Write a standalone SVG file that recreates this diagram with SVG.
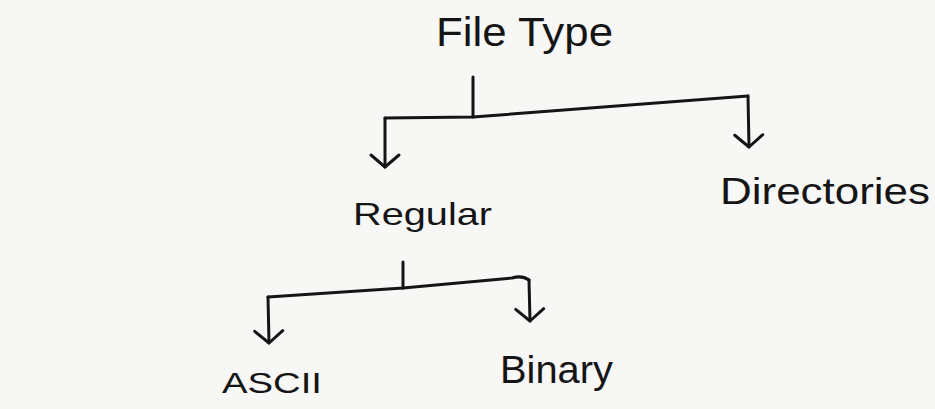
<svg xmlns="http://www.w3.org/2000/svg" width="935" height="409" viewBox="0 0 935 409">
  <style>
    .bg { fill: #f7f7f5; }
    .lbl { font-family: "Liberation Sans", "DejaVu Sans", sans-serif; fill: #151515; }
    .wire { fill: none; stroke: #151515; stroke-width: 3; stroke-linecap: round; stroke-linejoin: round; }
  </style>
  <defs>
    <marker id="vhead" markerUnits="userSpaceOnUse" viewBox="-20 -20 40 40" markerWidth="40" markerHeight="40" refX="0" refY="0" orient="auto">
      <path d="M-12,-14 L0,0 L-12,14" fill="none" stroke="#151515" stroke-width="3" stroke-linecap="round" stroke-linejoin="round"/>
    </marker>
  </defs>
  <rect class="bg" x="0" y="0" width="935" height="409"/>

  <g id="connectors">
    <path class="wire" d="M473,77 L473,117"/>
    <path class="wire" d="M385,118 L473,117 L748,96"/>
    <path class="wire" d="M385,118 L385,167" marker-end="url(#vhead)"/>
    <path class="wire" d="M748,96 L749,147" marker-end="url(#vhead)"/>
    <path class="wire" d="M403,262 L403,288"/>
    <path class="wire" d="M268,297 L403,288 L512,278 Q522,275 529,280"/>
    <path class="wire" d="M268,297 L269,343" marker-end="url(#vhead)"/>
    <path class="wire" d="M529,280 L530,321" marker-end="url(#vhead)"/>
  </g>

  <g id="node-filetype">
    <text class="lbl" x="436" y="46" font-size="40" textLength="177" lengthAdjust="spacingAndGlyphs">File Type</text>
  </g>
  <g id="node-regular">
    <text class="lbl" x="353" y="225" font-size="32" textLength="139" lengthAdjust="spacingAndGlyphs">Regular</text>
  </g>
  <g id="node-directories">
    <text class="lbl" x="720" y="204" font-size="36" textLength="210" lengthAdjust="spacingAndGlyphs">Directories</text>
  </g>
  <g id="node-ascii">
    <text class="lbl" x="222" y="393" font-size="30" textLength="100" lengthAdjust="spacingAndGlyphs">ASCII</text>
  </g>
  <g id="node-binary">
    <text class="lbl" x="500" y="383" font-size="38" textLength="113" lengthAdjust="spacingAndGlyphs">Binary</text>
  </g>
</svg>
